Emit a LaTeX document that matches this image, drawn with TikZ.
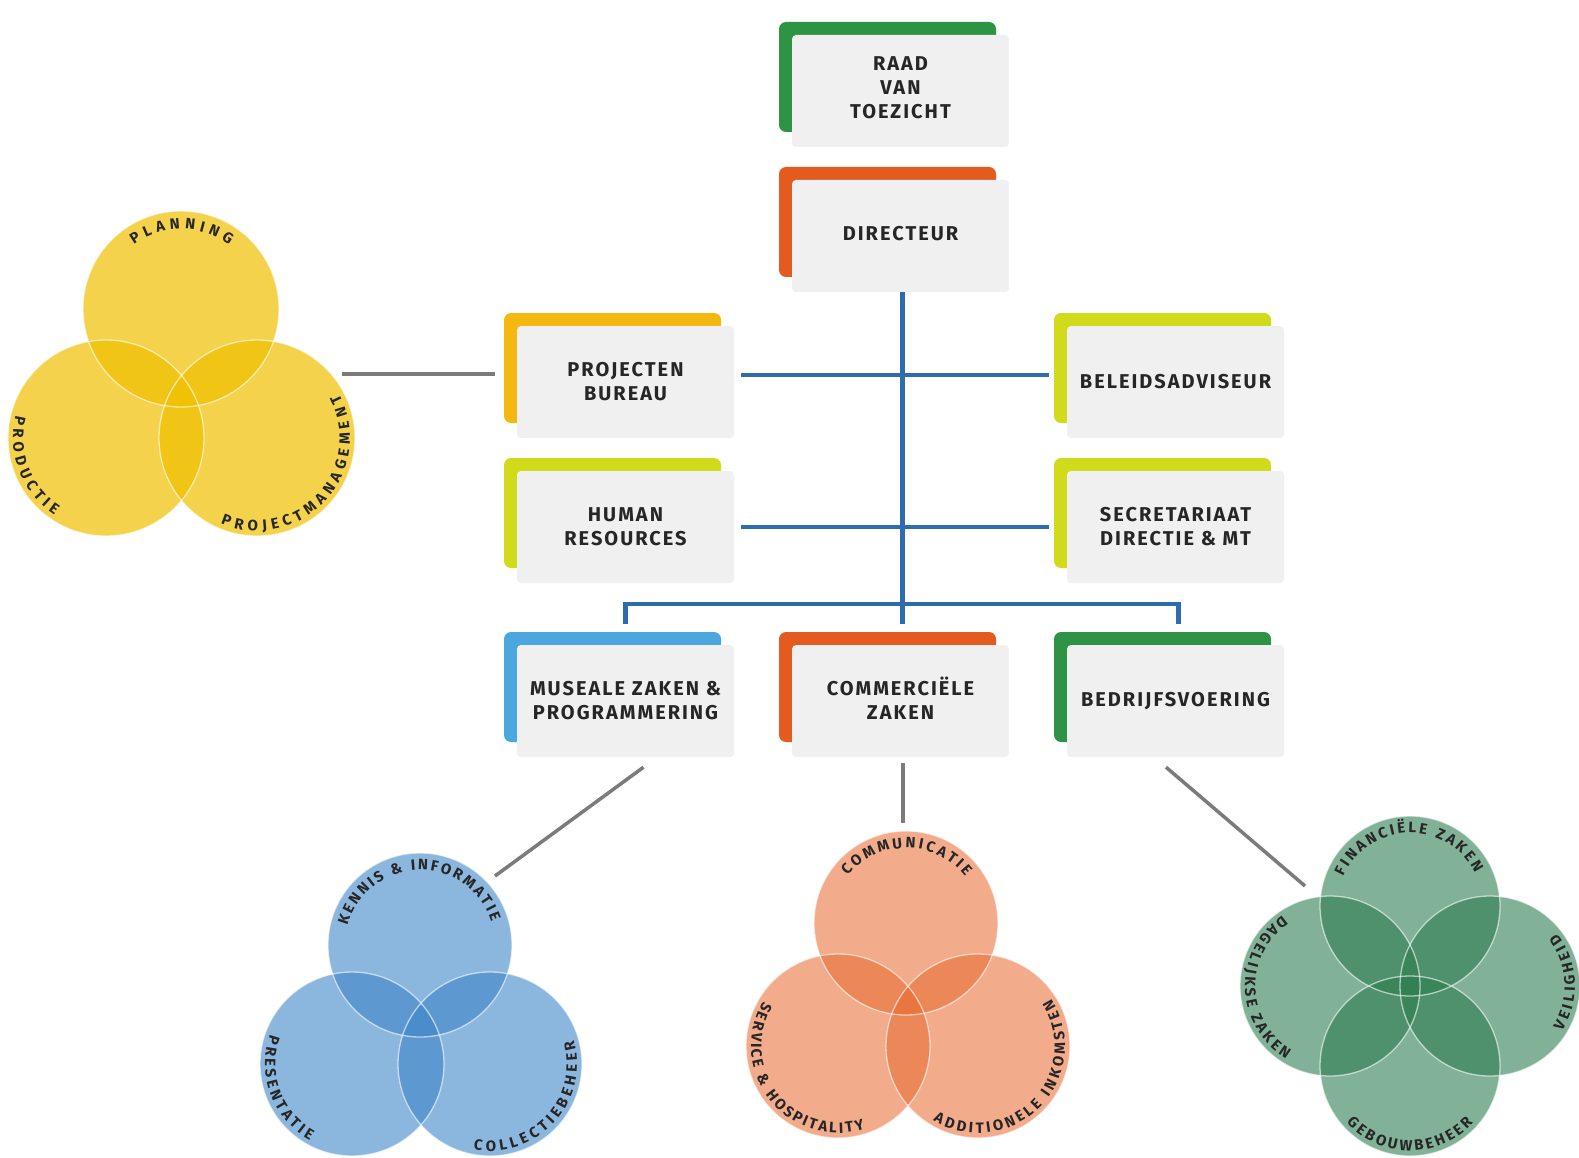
\documentclass[tikz,border=0pt]{standalone}
\usepackage{fontspec}
\setmainfont{Fira Sans}
\newfontfamily\boxfontfam{Fira Sans}[LetterSpace=10]
\usetikzlibrary{decorations.text,calc}
\definecolor{boxgray}{HTML}{F0F0F0}
\definecolor{txt}{HTML}{262626}
\definecolor{cgreen}{HTML}{2E9344}
\definecolor{corange}{HTML}{E35B1F}
\definecolor{cyellow}{HTML}{F4B910}
\definecolor{clime}{HTML}{D2DA1C}
\definecolor{cblue}{HTML}{4AA8DE}
\definecolor{linkblue}{HTML}{2D6CAF}
\definecolor{linkgray}{HTML}{7B7B7B}
\definecolor{vyellow}{HTML}{F0C000}
\definecolor{vblue}{HTML}{3F86C8}
\definecolor{vorange}{HTML}{E8692D}
\definecolor{vgreen}{HTML}{2E7D50}
\newcommand\boxfont{\boxfontfam\bfseries\fontsize{20}{24}\selectfont}
\newcommand\curvefont{\bfseries\fontsize{15}{15}\selectfont}
\tikzset{
  orgnode/.style={rectangle, fill=boxgray, rounded corners=4pt, minimum width=217pt,
    minimum height=112pt, inner sep=0pt, align=center, font=\boxfont, text=txt},
  raised/.style={text depth=6pt},
  bluelink/.style={draw=linkblue, line width=4.5pt},
  graylink/.style={draw=linkgray, line width=3.5pt},
  curvetext/.style={decorate, decoration={text along path, text={|\curvefont|#1},
    text align=fit to path, text color=txt}},
  venncircle/.style={white, opacity=0.6, line width=1.3pt}
}
\newcommand\orgbox[6][]{%
  \fill[#5, rounded corners=7pt] (#3,-#4) rectangle ++(217,-110);
  \node[orgnode,#1] (#2) at ({#3+121.5},{-#4-69}) {#6};
}
\newcommand\curvelabel[5]{%
  \path[curvetext={#5}] ([shift={(#3:#2)}]#1) arc[start angle=#3, end angle=#4, radius=#2];
}
\begin{document}
\begin{tikzpicture}[x=1pt,y=1pt]
\fill[white] (0,0) rectangle (1579,-1158);
\useasboundingbox (0,0) rectangle (1579,-1158);

% ---------- Venn coordinates ----------
\coordinate (yt) at (181,-309);
\coordinate (yl) at (106,-438);
\coordinate (yr) at (257,-438);
\coordinate (bt) at (420,-945);
\coordinate (bl) at (352,-1064);
\coordinate (br) at (490,-1064);
\coordinate (ot) at (906,-923);
\coordinate (ol) at (838,-1046);
\coordinate (orr) at (978,-1046);
\coordinate (gt) at (1410,-906);
\coordinate (gl) at (1330,-986);
\coordinate (gr) at (1490,-986);
\coordinate (gb) at (1410,-1066);

% ---------- Venn fills ----------
\foreach \c in {yt,yl,yr} \fill[vyellow, fill opacity=0.7] (\c) circle[radius=98];
\foreach \c in {yt,yl,yr} \draw[venncircle] (\c) circle[radius=98];
\foreach \c in {bt,bl,br} \fill[vblue, fill opacity=0.6] (\c) circle[radius=92];
\foreach \c in {bt,bl,br} \draw[venncircle] (\c) circle[radius=92];
\foreach \c in {ot,ol,orr} \fill[vorange, fill opacity=0.55] (\c) circle[radius=92];
\foreach \c in {ot,ol,orr} \draw[venncircle] (\c) circle[radius=92];
\foreach \c in {gt,gl,gr,gb} \fill[vgreen, fill opacity=0.6] (\c) circle[radius=90];
\foreach \c in {gt,gl,gr,gb} \draw[venncircle] (\c) circle[radius=90];

% ---------- Venn labels ----------
\curvelabel{yt}{80}{126}{53}{PLANNING}
\curvelabel{yl}{93}{166}{236.5}{PRODUCTIE}
\curvelabel{yr}{93}{247}{388}{PROJECTMANAGEMENT}
\curvelabel{bt}{75}{165}{18}{KENNIS {\&} INFORMATIE}
\curvelabel{bl}{87}{160}{241}{PRESENTATIE}
\curvelabel{br}{87}{259}{376}{COLLECTIEBEHEER}
\curvelabel{ot}{75}{141}{38}{COMMUNICATIE}
\curvelabel{ol}{87}{149}{288}{SERVICE {\&} HOSPITALITY}
\curvelabel{orr}{87}{239}{393}{ADDITIONELE INKOMSTEN}
\curvelabel{gt}{73}{156}{27}{FINANCIËLE ZAKEN}
\curvelabel{gl}{85}{124}{239}{DAGELIJKSE ZAKEN}
\curvelabel{gr}{85}{328}{398}{VEILIGHEID}
\curvelabel{gb}{85}{221.5}{318}{GEBOUWBEHEER}

% ---------- Org boxes ----------
\orgbox[raised]{raad}{779}{22}{cgreen}{RAAD\\VAN\\TOEZICHT}
\orgbox[raised]{dir}{779}{167}{corange}{DIRECTEUR}
\orgbox{proj}{504}{313}{cyellow}{PROJECTEN\\BUREAU}
\orgbox{bel}{1054}{313}{clime}{BELEIDSADVISEUR}
\orgbox{hr}{504}{458}{clime}{HUMAN\\RESOURCES}
\orgbox{sec}{1054}{458}{clime}{SECRETARIAAT\\DIRECTIE \& MT}
\orgbox{mus}{504}{632}{cblue}{MUSEALE ZAKEN \&\\PROGRAMMERING}
\orgbox[raised]{com}{779}{632}{corange}{COMMERCIËLE\\ZAKEN}
\orgbox{bed}{1054}{632}{cgreen}{BEDRIJFSVOERING}

% ---------- Blue connectors ----------
\coordinate (bus) at (0,-604);
\draw[bluelink] ([xshift=2pt]dir.south) -- ([xshift=2pt,yshift=21pt]com.north);
\draw[bluelink] ([yshift=21pt]mus.north) -- (mus.north |- bus) -- ([xshift=3pt]bed.north |- bus) -- ([xshift=3pt,yshift=21pt]bed.north);
\draw[bluelink] ([xshift=7pt,yshift=7pt]proj.east) -- ([xshift=-18pt,yshift=7pt]bel.west);
\draw[bluelink] ([xshift=7pt]hr.east) -- ([xshift=-18pt]sec.west);

% ---------- Gray connectors ----------
\coordinate (yv) at (342,-374);
\coordinate (bv) at (495,-876);
\coordinate (cv) at (903,-823);
\coordinate (gv) at (1305,-886);
\draw[graylink] (yv) -- ([xshift=-22pt,yshift=8pt]proj.west);
\draw[graylink] ([xshift=18pt,yshift=-10pt]mus.south) -- (bv);
\draw[graylink] ([xshift=2.5pt,yshift=-6pt]com.south) -- (cv);
\draw[graylink] ([xshift=-9.5pt,yshift=-10pt]bed.south) -- (gv);
\end{tikzpicture}
\end{document}
